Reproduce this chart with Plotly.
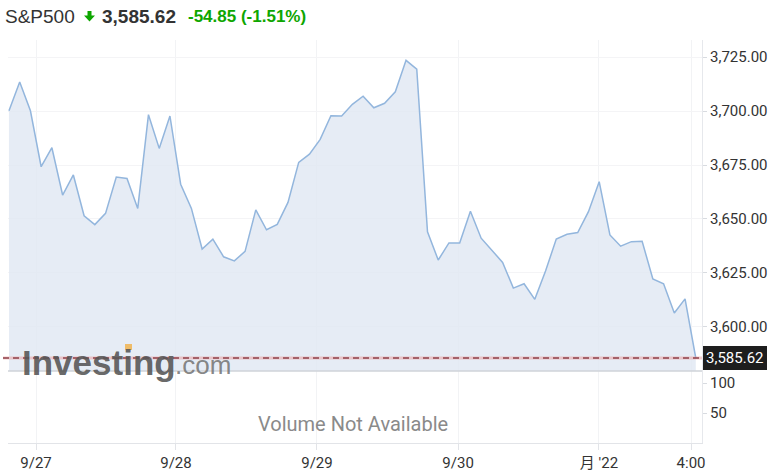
import plotly.graph_objects as go

# ---- data ----
idx = list(range(65))
price = [3700.1, 3713.4, 3700.1, 3674.2, 3683.0, 3661.1, 3670.4, 3651.5, 3647.4, 3652.6,
         3669.4, 3668.8, 3654.9, 3698.3, 3682.7, 3697.7, 3666.1, 3654.9, 3636.1, 3640.7,
         3632.5, 3630.6, 3635.0, 3654.2, 3645.0, 3647.5, 3657.7, 3676.2, 3680.0, 3686.9,
         3697.8, 3697.7, 3703.1, 3706.9, 3701.5, 3703.6, 3708.9, 3723.5, 3719.4, 3644.1,
         3631.0, 3638.9, 3638.9, 3653.6, 3641.1, 3635.6, 3629.9, 3618.0, 3620.0, 3612.8,
         3625.9, 3640.7, 3642.9, 3643.7, 3653.4, 3667.3, 3642.6, 3637.4, 3639.5, 3639.7,
         3622.2, 3620.0, 3606.5, 3613.0, 3585.62]
last_price = 3585.62
change = -54.85
change_pct = -1.51
x_tick_pos = [2.52, 15.56, 28.7, 41.85, 54.98, 63.56]
x_tick_text = ["9/27", "9/28", "9/29", "9/30", "月 '22", "4:00"]
price_ticks = [3600, 3625, 3650, 3675, 3700, 3725]
vol_ticks = [50, 100]

W, H = 776, 471
ML, MR, MT, MB = 8, 74, 40, 28
plot_h = H - MT - MB
split = (443 - 371) / plot_h

def px(xp):
    return (xp - ML) / (W - ML - MR)

def py(yp):
    return (H - MB - yp) / plot_h

font_axis = "Roboto, 'Noto Sans CJK JP', sans-serif"

fig = go.Figure()
fig.add_trace(go.Scatter(
    x=idx, y=price, mode="lines", fill="tozeroy",
    line=dict(color="#93b6dd", width=1.5),
    fillcolor="rgba(224,231,242,0.8)",
    hoverinfo="skip", yaxis="y", xaxis="x",
))
# empty volume trace to create the lower pane
fig.add_trace(go.Scatter(x=[idx[0]], y=[None], mode="lines", yaxis="y2", xaxis="x",
                         showlegend=False, hoverinfo="skip"))

fig.update_layout(
    width=W, height=H,
    margin=dict(l=ML, r=MR, t=MT, b=MB, autoexpand=False),
    paper_bgcolor="white", plot_bgcolor="white",
    showlegend=False,
    xaxis=dict(
        range=[-0.09, 64.58], anchor="y2", automargin=False,
        tickvals=x_tick_pos, ticktext=x_tick_text,
        showgrid=True, gridcolor="#f2f3f5", gridwidth=1,
        ticks="outside", ticklen=6, tickcolor="#e2e4e8",
        showline=True, linecolor="#e2e4e8", linewidth=1,
        tickfont=dict(family=font_axis, size=15, color="#333"),
        zeroline=False, fixedrange=True,
    ),
    yaxis=dict(
        domain=[split, 1], range=[3579.6, 3732.9], side="right", automargin=False,
        tickvals=price_ticks, tickformat=",.2f",
        showgrid=True, gridcolor="#f4f4f6", gridwidth=1,
        ticks="outside", ticklen=4, tickcolor="#d8dbe0",
        showline=True, linecolor="#e6e8ec", linewidth=1,
        tickfont=dict(family=font_axis, size=15, color="#333"),
        zeroline=False,
    ),
    yaxis2=dict(
        domain=[0, split], range=[0, 120], side="right", automargin=False,
        tickvals=vol_ticks,
        showgrid=False,
        ticks="outside", ticklen=4, tickcolor="#d8dbe0",
        showline=True, linecolor="#e6e8ec", linewidth=1,
        tickfont=dict(family=font_axis, size=15, color="#333"),
        zeroline=False,
    ),
)

# separator line between price and volume panes
fig.add_shape(type="line", xref="paper", yref="paper", x0=0, x1=1, y0=split, y1=split,
              line=dict(color="#cfd3d8", width=1.5))
# last price dashed line with halo
fig.add_shape(type="line", xref="paper", yref="y", x0=px(3), x1=1, y0=last_price, y1=last_price,
              line=dict(color="rgba(235,170,170,0.6)", width=3))
fig.add_shape(type="line", xref="paper", yref="y", x0=px(3), x1=1, y0=last_price, y1=last_price,
              line=dict(color="#8e4049", width=1.5, dash="6px,4px"))

# price tag
fig.add_annotation(xref="paper", yref="y", x=1, y=last_price, xanchor="left", yanchor="middle",
                   xshift=1, text=f"{last_price:,.2f}", showarrow=False,
                   bgcolor="#1e1e1e", bordercolor="#1e1e1e", borderpad=2,
                   font=dict(family=font_axis, size=15, color="white"))

# watermark
fig.add_annotation(xref="paper", yref="paper", x=px(20), y=py(362), xanchor="left", yanchor="middle",
                   text="<b>Investing</b>", showarrow=False,
                   font=dict(family="Liberation Sans, Arial", size=35, color="rgba(85,85,85,0.9)"))
fig.add_annotation(xref="paper", yref="paper", x=px(173), y=py(365), xanchor="left", yanchor="middle",
                   text=".com", showarrow=False,
                   font=dict(family="Liberation Sans, Arial", size=26, color="rgba(120,120,120,0.9)"))
fig.add_shape(type="rect", xref="paper", yref="paper", x0=px(125), x1=px(132), y0=py(350), y1=py(344),
              line=dict(width=0), fillcolor="rgba(240,180,80,0.85)")

# volume not available
fig.add_annotation(xref="paper", yref="paper", x=px(353), y=py(424), xanchor="center", yanchor="middle",
                   text="Volume Not Available", showarrow=False,
                   font=dict(family=font_axis, size=20, color="#8a8a8a"))

# header
fig.add_annotation(xref="paper", yref="paper", x=px(3), y=py(16), xanchor="left", yanchor="middle",
                   text="S&P500", showarrow=False,
                   font=dict(family="Liberation Sans, Arial", size=19, color="#333"))
fig.add_shape(type="path", xref="paper", yref="paper",
              path=(f"M {px(87.5)} {py(11)} L {px(91.5)} {py(11)} L {px(91.5)} {py(15.5)} "
                    f"L {px(95)} {py(15.5)} L {px(89.5)} {py(21.5)} L {px(84)} {py(15.5)} "
                    f"L {px(87.5)} {py(15.5)} Z"),
              line=dict(width=0), fillcolor="#0ea600")
fig.add_annotation(xref="paper", yref="paper", x=px(100), y=py(16), xanchor="left", yanchor="middle",
                   text=f"<b>{last_price:,.2f}</b>", showarrow=False,
                   font=dict(family="Liberation Sans, Arial", size=19, color="#333"))
fig.add_annotation(xref="paper", yref="paper", x=px(186), y=py(16), xanchor="left", yanchor="middle",
                   text=f"<b>{change:.2f} ({change_pct:.2f}%)</b>", showarrow=False,
                   font=dict(family="Liberation Sans, Arial", size=17, color="#0ea600"))

fig.write_html("out.html", config={"displayModeBar": False},
               post_script="document.body.style.margin='0';")
